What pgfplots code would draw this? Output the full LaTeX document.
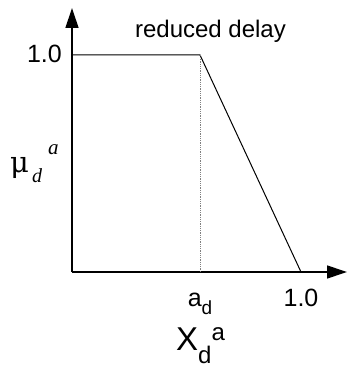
\documentclass[border=0pt]{standalone}
\usepackage{fontspec}
\setmainfont{Liberation Sans}
\newfontfamily\serifface{Liberation Serif}
\newfontfamily\greekface{DejaVu Serif}
\usepackage{pgfplots}
\pgfplotsset{compat=1.18}
\usetikzlibrary{arrows.meta}

\begin{document}
\begin{tikzpicture}
\useasboundingbox (-72pt,-95pt) rectangle (277pt,272pt);
\begin{axis}[
  scale only axis, width=275pt, height=264pt,
  xmin=0, xmax=1.2009, ymin=0, ymax=1.2166,
  axis x line=bottom, axis y line=left,
  axis line style={line width=1.3pt, -{Triangle[length=20pt,width=13pt]}},
  major tick length=0pt,
  clip=false,
  xtick={0.559,1}, ytick={1},
  xticklabels={a\raisebox{-8pt}{\fontsize{19}{19}\selectfont d}, 1.0},
  yticklabels={1.0},
  ticklabel style={font=\fontsize{25}{25}\selectfont, inner sep=0pt},
  xticklabel style={anchor=base, yshift=-34pt},
  yticklabel style={anchor=base east, xshift=-10pt, yshift=-7pt},
]
  % membership function for reduced delay
  \addplot[black, line width=1pt] coordinates {(0,1) (0.559,1) (1,0)};
  % breakpoint a_d
  \addplot[gray, densely dotted, line width=0.8pt] coordinates {(0.559,0) (0.559,1)};
\end{axis}
\node[anchor=base, inner sep=0pt, font=\fontsize{24}{24}\selectfont] at (138.5pt,234pt) {reduced delay};
% axis title X_d^a
\node[anchor=base, inner sep=0pt] at (128.5pt,-78pt)
  {{\fontsize{33}{33}\selectfont X}\raisebox{-13pt}{\fontsize{24}{24}\selectfont d}\raisebox{10pt}{\fontsize{24}{24}\selectfont a}};
% axis title mu_d^a
\node[anchor=base west, inner sep=0pt, font=\greekface\fontsize{29}{29}\selectfont] at (-62pt,99pt) {μ};
\node[anchor=base west, inner sep=0pt, font=\serifface\itshape\fontsize{20}{20}\selectfont] at (-40pt,89pt) {d};
\node[anchor=base west, inner sep=0pt, font=\serifface\itshape\fontsize{21}{21}\selectfont] at (-24pt,117pt) {a};
\end{tikzpicture}
\end{document}
